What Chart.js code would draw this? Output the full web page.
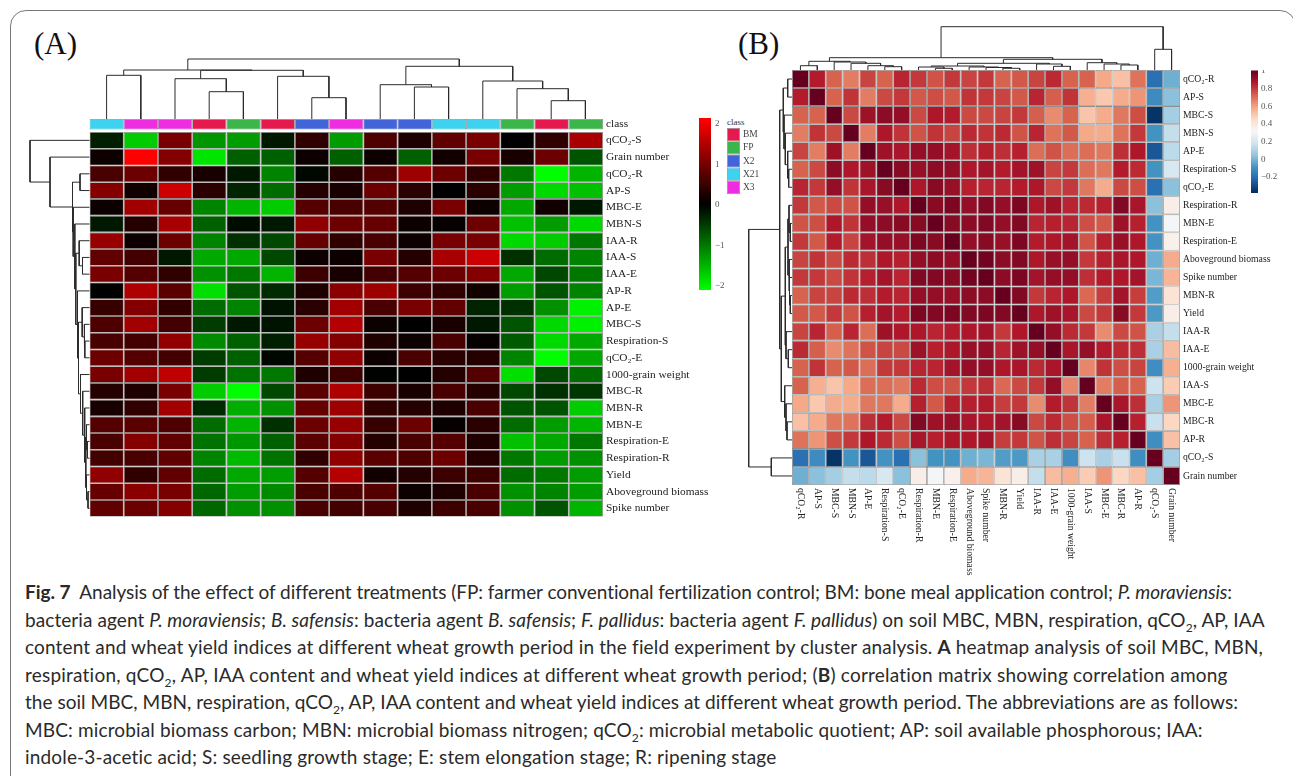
<!DOCTYPE html>
<html>
<head>
<meta charset="utf-8">
<title>Fig. 7</title>
<script src="https://cdn.jsdelivr.net/npm/chart.js@4"></script>
<style>
  html, body { margin: 0; padding: 0; background: #fff; }
  body { width: 1293px; height: 776px; position: relative; overflow: hidden; }
  .frame { position: absolute; left: 10px; top: 10px; width: 1286px; height: 800px; border: 1.5px solid #777; border-radius: 16px; box-sizing: border-box; }
  .panel { position: absolute; top: 26px; font: 31px "Liberation Serif", serif; color: #111; }
  .small { position: absolute; font: 9px "Liberation Serif", serif; color: #333; }
  .cap { position: absolute; left: 25px; white-space: nowrap; font: 19px/27px Lato, sans-serif; color: #2a2a2a; }
  .cap sub { font-size: 12px; line-height: 0; }
  canvas { position: absolute; display: block; }
</style>
</head>
<body>
<div class="frame"></div>
<div class="panel" style="left:34px">(A)</div>
<div class="panel" style="left:738px">(B)</div>
<div class="small" style="left:727px;top:117px">class</div>

<div class="cap" style="top:578px"><b>Fig. 7</b>&nbsp; Analysis of the effect of different treatments (FP: farmer conventional fertilization control; BM: bone meal application control; <i>P. moraviensis</i>:</div>
<div class="cap" style="top:606px">bacteria agent <i>P. moraviensis</i>; <i>B. safensis</i>: bacteria agent <i>B. safensis</i>; <i>F. pallidus</i>: bacteria agent <i>F. pallidus</i>) on soil MBC, MBN, respiration, qCO<sub>2</sub>, AP, IAA</div>
<div class="cap" style="top:633px">content and wheat yield indices at different wheat growth period in the field experiment by cluster analysis. <b>A</b> heatmap analysis of soil MBC, MBN,</div>
<div class="cap" style="top:661px">respiration, qCO<sub>2</sub>, AP, IAA content and wheat yield indices at different wheat growth period; (<b>B</b>) correlation matrix showing correlation among</div>
<div class="cap" style="top:688px">the soil MBC, MBN, respiration, qCO<sub>2</sub>, AP, IAA content and wheat yield indices at different wheat growth period. The abbreviations are as follows:</div>
<div class="cap" style="top:716px">MBC: microbial biomass carbon; MBN: microbial biomass nitrogen; qCO<sub>2</sub>: microbial metabolic quotient; AP: soil available phosphorous; IAA:</div>
<div class="cap" style="top:743px">indole-3-acetic acid; S: seedling growth stage; E: stem elongation stage; R: ripening stage</div>

<script>
const CLASS_NAMES = ["BM","FP","X2","X21","X3"];
const CLASS_COLORS = ["#e6194f","#3cb54a","#4264d8","#3dd3f0","#ee2de0"];
const COLUMN_CLASSES = ["X21","X3","X3","BM","FP","BM","X2","X3","X2","X2","X21","X21","FP","BM","FP"];

const ROWS_A = ["qCO₂-S","Grain number","qCO₂-R","AP-S","MBC-E","MBN-S","IAA-R","IAA-S","IAA-E","AP-R","AP-E","MBC-S",
  "Respiration-S","qCO₂-E","1000-grain weight","MBC-R","MBN-R","MBN-E","Respiration-E","Respiration-R","Yield","Aboveground biomass","Spike number"];

const HEAT_VALUES = [
  [-.25,-1.7,1,-1.25,-1.3,-.2,.4,-1.3,.65,.25,.8,1,0,.4,1.4],
  [.1,2.1,1.1,-1.9,-.8,-.8,.1,-.8,.1,-.8,.15,1,.2,.9,-.7],
  [.6,.9,.4,.2,-.2,-1.1,-.05,.3,.7,1.3,.9,.4,-1,-2.1,-1.5],
  [1.1,.15,1.7,.35,-.3,-.9,.3,.2,.9,.35,0,.35,-1.3,-1.8,-1.6],
  [.1,1.35,.85,-1.1,-1.5,-1.7,.7,.6,.7,.25,1,.1,-1.4,.15,-.2],
  [-.2,.3,1.4,-.8,-.1,-.2,1.2,.9,.85,.1,.05,.9,-1.6,-1.3,-1.8],
  [1.25,.1,.9,-1.1,-.4,-.6,.85,.4,.6,.1,1,1,-1.8,-1.7,-1],
  [.8,.55,-.2,-1.4,-1.4,-.6,.1,.1,1,.3,1.4,1.7,-.4,-.9,-1.1],
  [1,.7,.4,-1.2,-1,-1.5,.5,.2,.55,.7,.9,1.1,-1.4,-.6,-1],
  [0,1.45,.75,-1.85,-.7,-.35,.25,1.15,1.3,.5,.4,.15,-1.3,-.7,-1.1],
  [.45,1.1,.4,-.9,-1.1,-.15,.35,1.35,.6,1,.8,-.3,-.4,-1.2,-2],
  [.65,1.35,.55,-.5,-.2,-.15,.9,1.5,.1,0,.2,-.2,-.7,-1.8,-2],
  [.6,.55,1.2,-1.15,-.8,-.25,1.25,1.1,.25,.1,.6,.05,-.75,-1.8,-1.4],
  [.9,.7,.55,-.5,-.8,-.05,.7,1.2,.1,.6,.35,.3,-1.1,-2.1,-1.4],
  [1,1.35,1.6,-.5,-.95,-1,.25,.5,-.02,0,.3,.7,-1.85,-.6,-.9],
  [.3,.25,1,-1.7,-2.1,-.6,.75,1.45,.5,.2,.6,.3,-.6,-.4,-.45],
  [.2,.4,1.35,-.35,-1.45,-1.2,.85,1.3,.4,.3,.25,.6,-.7,-.7,-1.7],
  [.7,.75,.65,-.9,-1.5,-.4,.9,1.25,.45,.9,.05,.35,-.9,-1.3,-1.5],
  [.6,1.1,.8,-.95,-1.25,-.8,.75,1.1,.3,.6,.7,.25,-1.6,-1.4,-1],
  [.55,.6,.8,-1.1,-1.55,-.95,.4,1.2,.75,.65,.9,.3,-1,-1.3,-1.2],
  [1.2,.4,.8,-.9,-1.4,-1.3,.7,1.5,.15,.3,.5,.5,-.9,-1,-1.3],
  [.85,1.15,1,-.85,-1.3,-1.15,.6,.65,.7,.1,.25,.6,-1.2,-1.1,-1.3],
  [.8,.9,1.1,-.85,-1.2,-1.2,.6,.55,.6,.25,.5,.6,-1.2,-.7,-1.5]
];

const LABELS_B = ["qCO₂-R","AP-S","MBC-S","MBN-S","AP-E","Respiration-S","qCO₂-E","Respiration-R","MBN-E","Respiration-E",
  "Aboveground biomass","Spike number","MBN-R","Yield","IAA-R","IAA-E","1000-grain weight","IAA-S","MBC-E","MBC-R","AP-R","qCO₂-S","Grain number"];

// upper triangle of the correlation matrix, each row starts at its diagonal
const CORR_UPPER = [
  [1,.86,.72,.67,.78,.72,.84,.80,.75,.80,.78,.80,.72,.74,.78,.83,.72,.72,.58,.52,.69,-.2,-.02],
  [1,.72,.81,.67,.77,.80,.74,.76,.74,.81,.8,.78,.74,.84,.73,.81,.56,.5,.57,.62,-.12,.03],
  [1,.77,.9,.93,.92,.77,.87,.86,.77,.77,.78,.8,.73,.64,.72,.51,.57,.68,.76,-.36,.08],
  [1,.67,.87,.81,.75,.81,.78,.83,.81,.83,.75,.84,.69,.74,.58,.57,.69,.8,-.1,.15],
  [1,.9,.88,.92,.92,.89,.82,.85,.82,.85,.7,.75,.7,.7,.68,.82,.87,-.27,.13],
  [1,.94,.91,.93,.92,.87,.89,.86,.89,.9,.78,.8,.7,.68,.86,.83,-.1,.2],
  [1,.87,.94,.91,.85,.84,.84,.86,.87,.77,.8,.68,.57,.77,.76,-.2,.03],
  [1,.94,.96,.92,.95,.92,.96,.87,.9,.84,.83,.85,.95,.88,.03,.36],
  [1,.94,.93,.95,.92,.95,.84,.85,.84,.76,.74,.9,.85,-.1,.3],
  [1,.92,.94,.91,.96,.86,.87,.89,.75,.85,.91,.87,-.1,.35],
  [1,.98,.93,.95,.87,.91,.92,.8,.85,.88,.87,-.02,.57],
  [1,.93,.96,.89,.92,.92,.82,.86,.87,.89,0,.55],
  [1,.95,.8,.84,.87,.71,.79,.89,.79,-.07,.41],
  [1,.87,.9,.88,.77,.8,.94,.8,-.08,.36],
  [1,.92,.83,.8,.64,.77,.75,.09,.15],
  [1,.88,.92,.86,.83,.82,.09,.53],
  [1,.65,.81,.76,.78,-.11,.56],
  [1,.67,.73,.72,.17,.49],
  [1,.88,.82,.09,.62],
  [1,.85,.16,.46],
  [1,-.11,.52],
  [1,.08],
  [1]
];

// dendrograms, hclust style: negative = leaf number, positive = earlier merge, last = height
const TREE_A_TOP = [[-1,-2,43.7],[-4,-5,27.3],[-3,2,40.3],[-7,-8,21.3],[-6,4,42.7],[3,5,48.7],[1,6,49],[-10,-11,32],[-9,8,34.3],
  [-14,-15,18.3],[-13,10,30.3],[-12,11,38],[9,12,52.7],[7,13,60]];
const TREE_A_LEFT = [[-3,-4,9.5],[-8,-9,7],[-7,2,10.3],[-13,-14,4.7],[-12,4,5.3],[-11,5,7.3],[-19,-20,2],[-18,7,3],[-22,-23,1.5],
  [-21,9,3],[8,10,3.7],[-17,11,4.8],[-16,12,6.8],[-15,13,9],[6,14,11],[-10,15,12],[3,16,13.7],[-6,17,14.7],[-5,18,16.3],[1,19,17],[-2,20,39.5],[-1,21,59.5]];
const TREE_B = [[-1,-2,4.3],[-6,-7,3.3],[-5,2,4.3],[-4,3,6.7],[-3,4,8],[1,5,8.7],[-9,-10,1.7],[-8,7,3],[-13,-14,1.7],[-12,9,2.5],[-11,10,3],
  [8,11,4],[-16,-17,3.7],[-15,13,6],[12,14,6.7],[-20,-21,5],[-19,16,6],[-18,17,7.3],[15,18,10.7],[6,19,12.3],[-22,-23,20.7],[20,21,43.3]];

const BAR_TICKS_A = [2,1,0,-1,-2];
const BAR_TICK_LABELS_A = ["2","1","0","−1","−2"];
const BAR_TICKS_B = [1,.8,.6,.4,.2,0,-.2];
const BAR_TICK_LABELS_B = ["1","0.8","0.6","0.4","0.2","0","−0.2"];

// right end of each caption line in the reference
const CAPTION_ENDS = [1232,1265,1262,1228,1238,1203,777];

const RDBU = ["#053061","#2166ac","#4393c3","#92c5de","#d1e5f0","#f7f7f7","#fddbc7","#f4a582","#d6604d","#b2182b","#67001f"];
const CORR_MIN = -.37, CORR_MAX = 1;

function heatColor(v){
  const c = Math.min(255, Math.round(Math.abs(v)/2.12*255));
  return v >= 0 ? `rgb(${c},0,0)` : `rgb(0,${c},0)`;
}

function corrColor(v){
  const t = Math.max(0, Math.min(.9999, (v-CORR_MIN)/(CORR_MAX-CORR_MIN))) * (RDBU.length-1);
  const i = Math.floor(t), f = t-i;
  const rgb = h => [1,3,5].map(k => parseInt(h.substr(k,2),16));
  const a = rgb(RDBU[i]), b = rgb(RDBU[i+1]);
  return `rgb(${a.map((x,k)=>Math.round(x+(b[k]-x)*f)).join(",")})`;
}

function corrAt(r,c){
  return r <= c ? CORR_UPPER[r][c-r] : CORR_UPPER[c][r-c];
}

function addCanvas(x,y,w,h){
  const c = document.createElement("canvas");
  c.width = w; c.height = h;
  c.style.left = x+"px"; c.style.top = y+"px";
  document.body.appendChild(c);
  return c;
}

function rowDataset(range, colors, border){
  return {
    data: colors.map(()=>range),
    backgroundColor: colors,
    borderColor: border ? "#8e8e8e" : "transparent",
    borderWidth: border ? .8 : 0,
    borderSkipped: false,
    inflateAmount: border ? 0 : .4,
    grouped: false,
    barPercentage: 1,
    categoryPercentage: 1
  };
}

// every block of cells (both heatmaps, legend, colour bars) goes through this
function gridChart(canvas, o){
  return new Chart(canvas, {
    type: "bar",
    data: { labels: o.cols, datasets: o.rows },
    plugins: o.plugins || [],
    options: {
      responsive: false,
      animation: false,
      devicePixelRatio: 1,
      layout: { padding: o.padding || 0 },
      plugins: { legend: {display:false}, tooltip: {enabled:false} },
      scales: {
        x: { display: false },
        y: {
          type: "linear", position: "right", reverse: !!o.reverse, min: o.min, max: o.max,
          grid: { display:false, drawTicks:false },
          border: { display:false },
          afterBuildTicks: s => { s.ticks = o.ticks.map(v=>({value:v})); },
          afterFit: s => { s.width = o.axisWidth; s.paddingTop = 0; s.paddingBottom = 0; },
          ticks: {
            autoSkip: false, padding: o.tickPad, color: o.tickColor || "#222",
            font: { family: "Liberation Serif", size: o.fontSize },
            callback: (v,i) => o.tickLabels[i]
          }
        }
      }
    }
  });
}

function dendroChart(canvas, merges, leaves, horizontal, height, padding){
  const nodes = [];
  const paths = merges.map(([a,b,h])=>{
    const pa = a<0 ? -a-.5 : nodes[a-1].p, ha = a<0 ? 0 : nodes[a-1].h;
    const pb = b<0 ? -b-.5 : nodes[b-1].p, hb = b<0 ? 0 : nodes[b-1].h;
    nodes.push({p:(pa+pb)/2, h});
    const pts = [[pa,ha],[pa,h],[pb,h],[pb,hb]];
    return {
      data: pts.map(([p,v]) => horizontal ? {x:p,y:v} : {x:v,y:p}),
      showLine: true, pointRadius: 0, borderColor: "#2b2b2b", borderWidth: 1, tension: 0, clip: false
    };
  });
  const posAxis = { type:"linear", display:false, min:0, max:leaves };
  const hAxis = { type:"linear", display:false, min:0, max:height };
  return new Chart(canvas, {
    type: "scatter",
    data: { datasets: paths },
    options: {
      responsive: false, animation: false, devicePixelRatio: 1,
      layout: { padding: padding || 0 },
      plugins: { legend:{display:false}, tooltip:{enabled:false} },
      scales: horizontal ? { x: posAxis, y: hAxis }
                         : { x: {...hAxis, reverse:true}, y: {...posAxis, reverse:true} }
    }
  });
}

const rowIdx = ROWS_A.map((_,i)=>i);

/* A heatmap, class strip on top */
const stripRange = [-13/16.73, -2.5/16.73];
const heatRows = [rowDataset(stripRange, COLUMN_CLASSES.map(c=>CLASS_COLORS[CLASS_NAMES.indexOf(c)]), true)]
  .concat(HEAT_VALUES.map((row,r)=>rowDataset([r,r+1], row.map(heatColor), true)));
gridChart(addCanvas(89,119,644,399), {
  cols: COLUMN_CLASSES, rows: heatRows, reverse: true, min: -13/16.73, max: 23,
  ticks: [(-13-2.5)/2/16.73].concat(rowIdx.map(i=>i+.5)),
  tickLabels: ["class"].concat(ROWS_A),
  axisWidth: 130, tickPad: 3, fontSize: 11.35,
  padding: {left:.5, right:0, top:0, bottom:1.3}
});
dendroChart(addCanvas(89,57,514,62), TREE_A_TOP, 15, true, 62, {left:.5, right:.5});
dendroChart(addCanvas(25,132,65,385), TREE_A_LEFT, 23, false, 64.5, {right:.5, bottom:.3});

/* A colour bar */
const bandsA = [];
for(let i=0;i<85;i++){
  const lo = -2.1+i*.05;
  bandsA.push(rowDataset([lo,lo+.05],[heatColor(lo+.025)],false));
}
gridChart(addCanvas(699,118,40,172), {
  cols:["bar"], rows:bandsA, min:-2.1, max:2.14, ticks:BAR_TICKS_A, tickLabels:BAR_TICK_LABELS_A,
  axisWidth:28, tickPad:4, fontSize:9, tickColor:"#555"
});

/* A class legend */
gridChart(addCanvas(727,128,50,66), {
  cols:["class"], rows:CLASS_COLORS.map((c,i)=>rowDataset([i,i+1],[c],true)), reverse:true, min:0, max:5,
  ticks:CLASS_NAMES.map((_,i)=>i+.5), tickLabels:CLASS_NAMES,
  axisWidth:37, tickPad:3, fontSize:9.5, tickColor:"#444"
});

/* B correlation matrix */
const xLabelsB = {
  id: "xLabelsB",
  afterDraw(chart){
    const {ctx, scales:{x}, chartArea} = chart;
    ctx.save();
    ctx.font = '9.7px "Liberation Serif"';
    ctx.fillStyle = "#222";
    ctx.textAlign = "left";
    ctx.textBaseline = "middle";
    LABELS_B.forEach((l,i)=>{
      ctx.save();
      ctx.translate(x.getPixelForValue(i), chartArea.bottom+3);
      ctx.rotate(Math.PI/2);
      ctx.fillText(l,0,0);
      ctx.restore();
    });
    ctx.restore();
  }
};
gridChart(addCanvas(792,70,498,510), {
  cols: LABELS_B,
  rows: LABELS_B.map((_,r)=>rowDataset([r,r+1], LABELS_B.map((_,c)=>corrColor(corrAt(r,c))), true)),
  reverse: true, min: 0, max: 23,
  ticks: LABELS_B.map((_,i)=>i+.5), tickLabels: LABELS_B,
  axisWidth: 110, tickPad: 3, fontSize: 9.7,
  padding: {bottom:95},
  plugins: [xLabelsB]
});
dendroChart(addCanvas(792,20,388,50), TREE_B, 23, true, 50);
dendroChart(addCanvas(745,70,47,415), TREE_B, 23, false, 47);

/* B colour bar */
const bandsB = [];
for(let i=0;i<69;i++){
  const lo = -.38+i*.02;
  bandsB.push(rowDataset([lo,lo+.02],[corrColor(lo+.01)],false));
}
gridChart(addCanvas(1251,70,40,123), {
  cols:["bar"], rows:bandsB, min:-.38, max:1.01, ticks:BAR_TICKS_B, tickLabels:BAR_TICK_LABELS_B,
  axisWidth:33, tickPad:3, fontSize:9, tickColor:"#555"
});

/* caption lines stretched to the reference line ends */
document.querySelectorAll(".cap").forEach((el,i)=>{
  const r = document.createRange();
  r.selectNodeContents(el);
  const w = r.getBoundingClientRect().width;
  el.style.letterSpacing = ((CAPTION_ENDS[i]-25-w)/el.textContent.length)+"px";
});
</script>
</body>
</html>
